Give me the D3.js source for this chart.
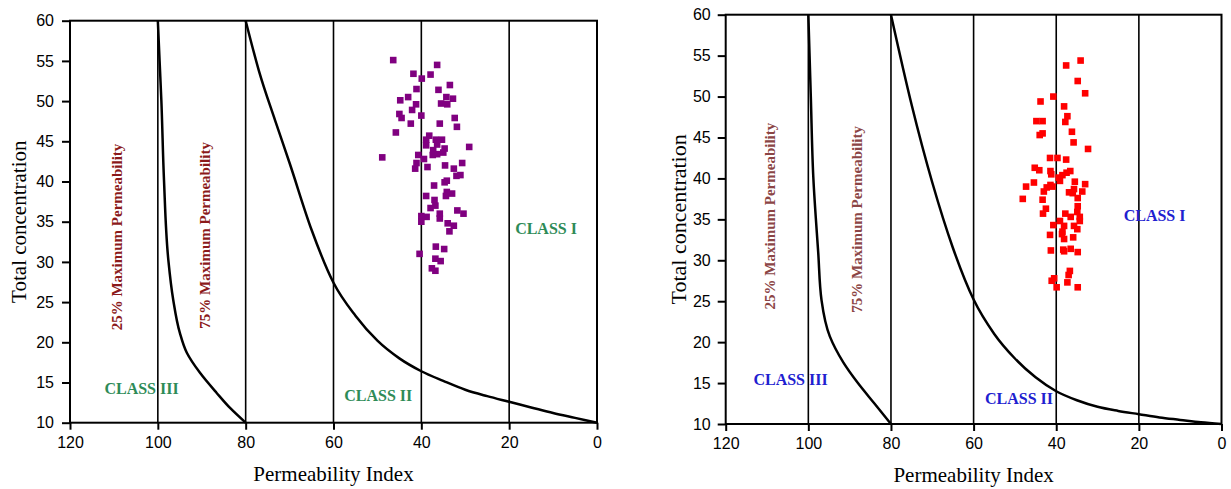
<!DOCTYPE html>
<html>
<head>
<meta charset="utf-8">
<script src="https://cdn.jsdelivr.net/npm/d3@7"></script>
<style>
  body { margin: 0; background: #fff; }
  svg { display: block; }
</style>
</head>
<body>
<script>
// axis ticks and divider lines
const xTicks = [120, 100, 80, 60, 40, 20, 0];
const yTicks = [10, 15, 20, 25, 30, 35, 40, 45, 50, 55, 60];
const dividers = [100, 80, 60, 40, 20];

// left panel: samples (permeability index, total concentration)
const leftPI = [46.4, 36.4, 41.8, 37.9, 39.9, 33.5, 41.1, 36.1, 43.0, 44.8, 34.3, 32.8, 41.2, 35.5, 34.1,
  42.1, 45.0, 44.5, 40.0, 32.4, 42.4, 35.8, 31.9, 45.8, 38.2, 38.9, 36.7, 35.3, 38.9, 36.4,
  29.1, 34.7, 37.3, 35.0, 37.4, 36.4, 48.9, 40.7, 39.4, 41.1, 30.7, 41.4, 38.6, 34.6, 32.6,
  32.0, 31.1, 34.7, 34.2, 37.1, 34.2, 33.0, 34.4, 38.9, 37.0, 36.8, 37.9, 35.8, 31.8, 30.4,
  40.0, 38.8, 35.8, 40.0, 34.0, 32.6, 33.6, 36.7, 34.8, 40.4, 36.8, 35.6, 37.6, 36.8];
const leftTC = [55.1, 54.5, 53.4, 53.3, 52.8, 52.0, 51.5, 51.4, 50.5, 50.1, 50.5, 50.3, 49.6, 49.7, 49.6,
  48.9, 48.4, 47.9, 48.2, 47.9, 47.2, 47.2, 46.8, 46.1, 45.7, 45.2, 45.2, 45.2, 44.5, 44.6,
  44.3, 44.1, 43.9, 43.6, 43.3, 43.4, 43.0, 43.3, 42.8, 42.3, 42.3, 41.6, 41.8, 42.0, 41.6,
  40.7, 40.8, 39.9, 40.1, 39.5, 38.7, 38.5, 38.2, 38.2, 37.7, 37.0, 36.7, 36.0, 36.4, 36.0,
  35.7, 35.6, 35.4, 35.0, 34.8, 34.5, 33.8, 31.9, 31.6, 31.0, 30.4, 30.1, 29.2, 28.9];

// right panel: samples
const rightPI = [34.1, 37.6, 34.8, 33.0, 40.7, 43.8, 38.1, 37.3, 44.8, 43.3, 37.8, 44.0, 43.3, 36.2, 35.8,
  32.3, 41.5, 39.7, 37.6, 45.2, 44.1, 41.4, 36.6, 41.2, 38.5, 37.5, 39.4, 39.1, 45.4, 35.5,
  33.0, 47.3, 41.4, 42.3, 40.9, 35.7, 43.0, 36.9, 36.0, 33.7, 34.8, 48.1, 43.3, 34.8, 42.5,
  34.9, 43.2, 37.8, 36.5, 34.3, 34.3, 39.1, 40.7, 38.1, 35.7, 34.9, 38.5, 38.6, 41.5, 35.9,
  38.1, 41.3, 38.3, 38.1, 36.5, 34.8, 36.7, 37.0, 37.3, 41.1, 40.5, 39.9, 34.8];
const rightTC = [54.4, 53.8, 51.9, 50.4, 50.0, 49.4, 48.8, 47.6, 47.0, 47.0, 46.9, 45.3, 45.5, 45.7, 44.4,
  43.6, 42.5, 42.5, 42.3, 41.3, 41.0, 40.9, 40.9, 40.5, 40.4, 40.7, 40.1, 39.7, 39.5, 39.6,
  39.3, 39.0, 39.2, 38.9, 39.0, 38.7, 38.4, 38.3, 38.2, 38.4, 37.6, 37.5, 37.4, 36.6, 36.3,
  35.9, 35.7, 35.7, 35.3, 35.3, 34.8, 34.8, 34.3, 34.2, 34.2, 33.8, 33.5, 33.2, 33.1, 32.8,
  32.6, 31.2, 31.3, 31.1, 31.4, 31.0, 28.7, 28.2, 27.3, 27.5, 27.8, 26.7, 26.7];

// boundary curves
const leftCurve1PI = [100, 99.6, 99.2, 98.6, 97.6, 96.5, 95.0, 93.4, 90.4, 86.6, 83.5, 80];
const leftCurve1TC = [60, 55, 50.1, 40.2, 30.2, 25.3, 21.2, 18.7, 16.2, 13.7, 11.8, 10];
const leftCurve2PI = [80, 77, 73.3, 70, 65, 60, 55, 50, 45, 40, 35, 30, 25, 20, 15, 10, 5, 0];
const leftCurve2TC = [60, 53.8, 47.6, 42.3, 34, 27.4, 23.3, 20.2, 18.0, 16.4, 15.2, 14.1, 13.3, 12.6, 11.9, 11.2, 10.6, 10];
const rightCurve1PI = [100, 99.7, 99.4, 98.8, 97.6, 96.8, 94.8, 91.5, 88, 84, 80];
const rightCurve1TC = [60, 55, 50.0, 40.2, 30.9, 25.1, 20.7, 17.5, 15.0, 12.5, 10];
const rightCurve2PI = [80, 75, 70, 65, 60, 55, 50, 45, 40, 35, 30, 25, 20, 15, 10, 5, 0];
const rightCurve2TC = [60, 49, 39.5, 31.5, 25.2, 21, 18, 15.7, 14, 12.9, 12.1, 11.6, 11.2, 10.8, 10.5, 10.2, 10];

const width = 1231;
const height = 489;

const svg = d3.select("body")
  .append("svg")
  .attr("width", width)
  .attr("height", height);

function drawPanel(cfg) {
  const x = d3.scaleLinear().domain([120, 0]).range([cfg.left, cfg.right]);
  const y = d3.scaleLinear().domain([10, 60]).range([cfg.bottom, cfg.top]);
  const g = svg.append("g");

  // vertical class dividers
  g.selectAll("line.div")
    .data(dividers)
    .enter()
    .append("line")
    .attr("x1", d => x(d))
    .attr("x2", d => x(d))
    .attr("y1", y(10))
    .attr("y2", y(60))
    .attr("stroke", "#000")
    .attr("stroke-width", 1.6);

  // frame
  g.append("rect")
    .attr("x", cfg.left)
    .attr("y", cfg.top)
    .attr("width", cfg.right - cfg.left)
    .attr("height", cfg.bottom - cfg.top)
    .attr("fill", "none")
    .attr("stroke", "#000")
    .attr("stroke-width", 2);

  const xAxis = g.append("g")
    .attr("transform", `translate(0,${cfg.bottom})`)
    .call(d3.axisBottom(x).tickValues(xTicks).tickSize(7).tickPadding(7).tickFormat(d3.format("d")));
  const yAxis = g.append("g")
    .attr("transform", `translate(${cfg.left},0)`)
    .call(d3.axisLeft(y).tickValues(yTicks).tickSize(8).tickPadding(cfg.yPad).tickFormat(d3.format("d")));
  [xAxis, yAxis].forEach(a => {
    a.select(".domain").remove();
    a.selectAll(".tick line").attr("stroke", "#000").attr("stroke-width", 2);
    a.selectAll(".tick text")
      .attr("fill", "#000")
      .style("font-family", "'Liberation Sans', Arial, sans-serif")
      .style("font-size", "16px");
  });

  const line = d3.line()
    .x(d => x(d[0]))
    .y(d => y(d[1]))
    .curve(d3.curveMonotoneY);
  const line2 = d3.line()
    .x(d => x(d[0]))
    .y(d => y(d[1]))
    .curve(d3.curveMonotoneX);

  g.append("path")
    .datum(cfg.c1x.map((v, i) => [v, cfg.c1y[i]]))
    .attr("d", line)
    .attr("fill", "none")
    .attr("stroke", "#000")
    .attr("stroke-width", 2.5);
  g.append("path")
    .datum(cfg.c2x.map((v, i) => [v, cfg.c2y[i]]))
    .attr("d", line2)
    .attr("fill", "none")
    .attr("stroke", "#000")
    .attr("stroke-width", 2.5);

  // samples
  g.selectAll("rect.pt")
    .data(cfg.px.map((v, i) => [v, cfg.py[i]]))
    .enter()
    .append("rect")
    .attr("x", d => x(d[0]) - 3.3)
    .attr("y", d => y(d[1]) - 3.3)
    .attr("width", 6.6)
    .attr("height", 6.6)
    .attr("fill", cfg.color);

  // rotated region notes
  cfg.notes.forEach(n => {
    g.append("text")
      .attr("transform", `translate(${x(n.at[0])},${y(n.at[1])}) rotate(-90)`)
      .attr("text-anchor", "middle")
      .attr("dy", "0.35em")
      .attr("fill", cfg.noteColor)
      .style("font-family", "'Liberation Serif', 'Times New Roman', serif")
      .style("font-weight", "bold")
      .style("font-size", "15px")
      .text(n.text);
  });

  cfg.classes.forEach(c => {
    g.append("text")
      .attr("x", x(c.at[0]))
      .attr("y", y(c.at[1]))
      .attr("text-anchor", "middle")
      .attr("dy", "0.35em")
      .attr("fill", cfg.classColor)
      .style("font-family", "'Liberation Serif', 'Times New Roman', serif")
      .style("font-weight", "bold")
      .style("font-size", "16px")
      .text(c.text);
  });

  svg.append("text")
    .attr("x", (cfg.left + cfg.right) / 2)
    .attr("y", cfg.bottom + 58)
    .attr("text-anchor", "middle")
    .style("font-family", "'Liberation Serif', 'Times New Roman', serif")
    .style("font-size", cfg.xTitleSize)
    .text("Permeability Index");

  svg.append("text")
    .attr("transform", `translate(${cfg.yTitleX},${(cfg.top + cfg.bottom) / 2}) rotate(-90)`)
    .attr("text-anchor", "middle")
    .style("font-family", "'Liberation Serif', 'Times New Roman', serif")
    .style("font-size", cfg.yTitleSize)
    .text("Total concentration");
}

drawPanel({
  left: 70, right: 597, top: 20.7, bottom: 422.7, yPad: 8,
  yTitleX: 26, yTitleSize: "21px", xTitleSize: "21px",
  px: leftPI, py: leftTC, color: "#800080",
  c1x: leftCurve1PI, c1y: leftCurve1TC, c2x: leftCurve2PI, c2y: leftCurve2TC,
  noteColor: "#8b1a1a", classColor: "#2e8b57",
  notes: [{ text: "25% Maximum Permeability", at: [109.4, 33.1] },
          { text: "75% Maximum Permeability", at: [89.3, 33.3] }],
  classes: [{ text: "CLASS III", at: [103.7, 14.3] },
            { text: "CLASS II", at: [49.8, 13.4] },
            { text: "CLASS I", at: [11.6, 34.2] }]
});

drawPanel({
  left: 725.7, right: 1221.5, top: 14.7, bottom: 424, yPad: 7,
  yTitleX: 686, yTitleSize: "22px", xTitleSize: "21px",
  px: rightPI, py: rightTC, color: "#ff0000",
  c1x: rightCurve1PI, c1y: rightCurve1TC, c2x: rightCurve2PI, c2y: rightCurve2TC,
  noteColor: "#8b4545", classColor: "#2020d0",
  notes: [{ text: "25% Maximum Permeability", at: [109.3, 35.4] },
          { text: "75% Maximum Permeability", at: [88.3, 35.0] }],
  classes: [{ text: "CLASS III", at: [104.3, 15.4] },
            { text: "CLASS II", at: [49.0, 13.1] },
            { text: "CLASS I", at: [16.2, 35.5] }]
});
</script>
</body>
</html>
